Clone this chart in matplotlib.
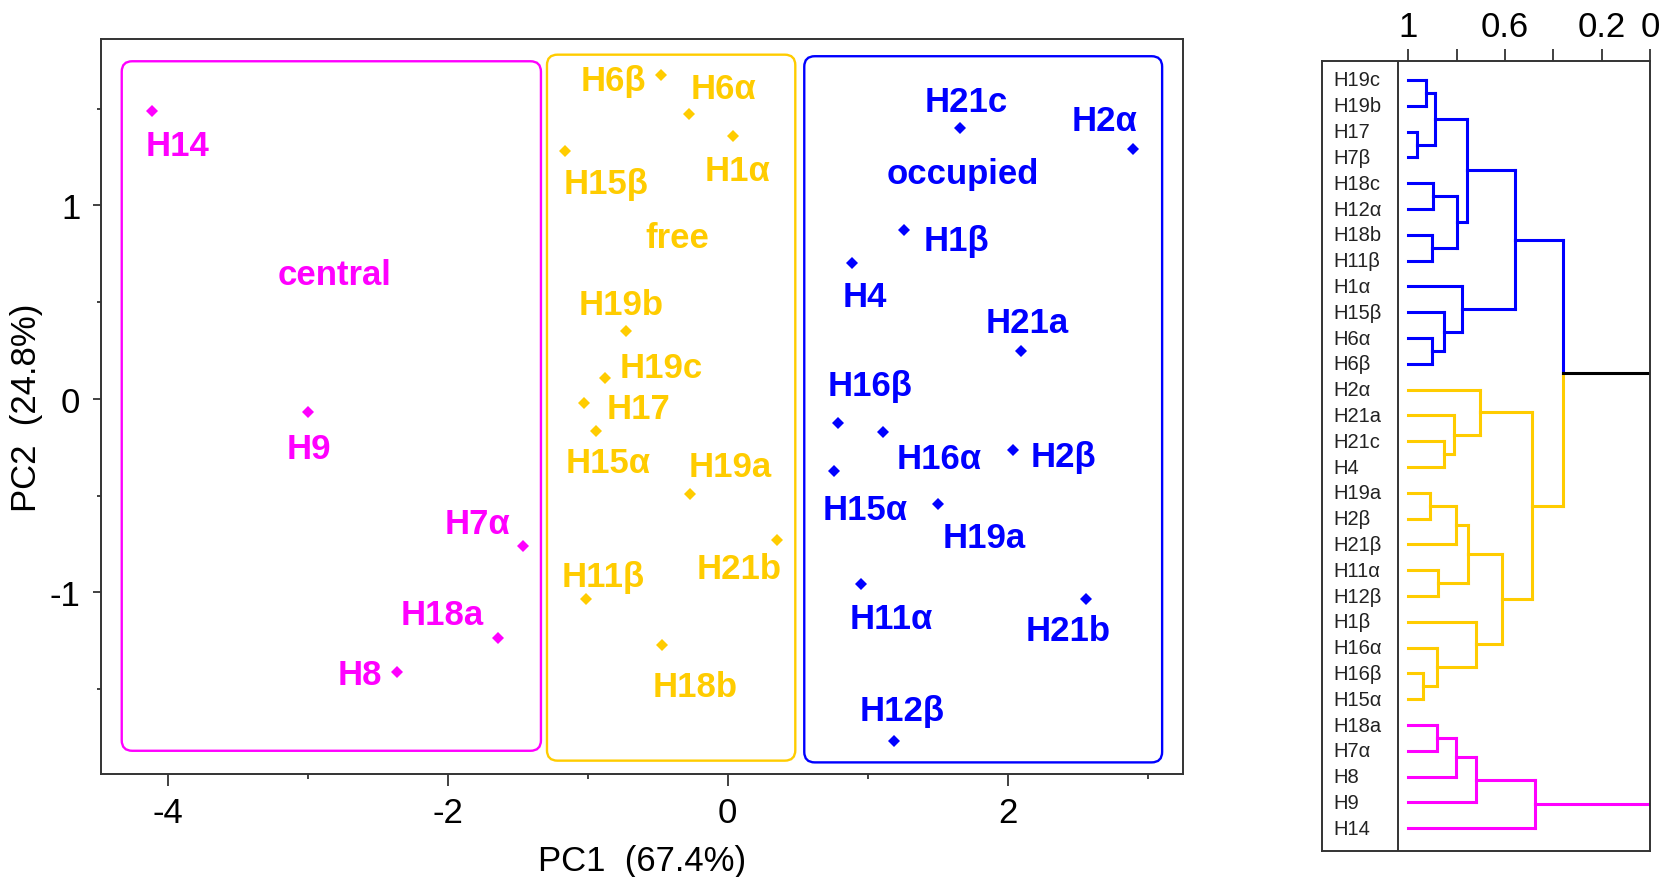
import matplotlib
matplotlib.use('Agg')
import matplotlib.pyplot as plt
from matplotlib.patches import FancyBboxPatch

plt.rcParams['font.family'] = ['Liberation Sans', 'DejaVu Sans']

MAGENTA = '#FF00FF'
YELLOW = '#FFCC00'
BLUE = '#0000FF'
AXIS_COLOR = '#333333'

# PCA scores, one group per cluster
central_names = ['H14', 'H9', 'H7α', 'H18a', 'H8']
central_pc1 = [-4.11, -3.00, -1.46, -1.64, -2.36]
central_pc2 = [1.49, -0.07, -0.76, -1.235, -1.41]

free_names = ['H6β', 'H6α', 'H1α', 'H15β', 'H19b', 'H19c', 'H17',
              'H15α', 'H19a', 'H21b', 'H11β', 'H18b']
free_pc1 = [-0.48, -0.28, 0.04, -1.16, -0.725, -0.88, -1.025,
            -0.94, -0.27, 0.35, -1.01, -0.47]
free_pc2 = [1.675, 1.475, 1.36, 1.28, 0.35, 0.11, -0.02,
            -0.165, -0.49, -0.73, -1.035, -1.27]

occupied_names = ['H21c', 'H2α', 'H1β', 'H4', 'H21a', 'H16β', 'H16α',
                  'H2β', 'H15α', 'H19a', 'H11α', 'H21b', 'H12β']
occupied_pc1 = [1.66, 2.89, 1.255, 0.89, 2.095, 0.785, 1.11,
                2.035, 0.755, 1.50, 0.95, 2.56, 1.185]
occupied_pc2 = [1.40, 1.29, 0.875, 0.70, 0.25, -0.125, -0.17,
                -0.265, -0.37, -0.545, -0.955, -1.035, -1.765]

# label offsets from the marker (points, text baseline)
central_offsets = [(18, -32), (1, -33), (-33, 9.5), (-40, 10), (-27, -9)]
free_offsets = [(-34, -11), (25, 11), (3, -31.5), (29, -30), (-4, 12.5),
                (41, 0.5), (39, -11), (9, -29.5), (29, 13), (-27, -27),
                (12, 9.5), (24, -37)]
occupied_offsets = [(4, 12.5), (-20, 14), (38, -15), (9, -30.5), (4, 13.5),
                    (23.5, 20), (40, -26), (36.5, -11.5), (23, -35),
                    (33, -30.5), (22, -32), (-13, -29), (6, 14.5)]

# (name, colour, names, pc1, pc2, offsets, title position, box extent)
groups = [
    ('central', MAGENTA, central_names, central_pc1, central_pc2, central_offsets,
     (-2.81, 0.645), (-4.327, -1.818, -1.334, 1.745)),
    ('free', YELLOW, free_names, free_pc1, free_pc2, free_offsets,
     (-0.36, 0.835), (-1.291, -1.869, 0.482, 1.779)),
    ('occupied', BLUE, occupied_names, occupied_pc1, occupied_pc2, occupied_offsets,
     (1.68, 1.165), (0.546, -1.878, 3.101, 1.771)),
]

# Hierarchical clustering (similarity scale, 1 = identical)
leaves = ['H19c', 'H19b', 'H17', 'H7β', 'H18c', 'H12α', 'H18b', 'H11β',
          'H1α', 'H15β', 'H6α', 'H6β',
          'H2α', 'H21a', 'H21c', 'H4', 'H19a', 'H2β', 'H21β', 'H11α',
          'H12β', 'H1β', 'H16α', 'H16β', 'H15α',
          'H18a', 'H7α', 'H8', 'H9', 'H14']
leaf_colors = [BLUE] * 12 + [YELLOW] * 13 + [MAGENTA] * 5

# merges: (child a, child b, similarity); new nodes numbered from len(leaves)
merges = [
    (0, 1, 0.928), (2, 3, 0.965), (30, 31, 0.89), (4, 5, 0.897),
    (6, 7, 0.903), (33, 34, 0.80), (32, 35, 0.756), (10, 11, 0.903),
    (9, 37, 0.852), (8, 38, 0.779), (36, 39, 0.559),
    (14, 15, 0.852), (13, 41, 0.811), (12, 42, 0.703), (16, 17, 0.91),
    (44, 18, 0.804), (19, 20, 0.876), (45, 46, 0.754), (23, 24, 0.938),
    (22, 48, 0.883), (21, 49, 0.72), (47, 50, 0.614), (43, 51, 0.487),
    (40, 52, 0.359),
    (25, 26, 0.883), (54, 27, 0.804), (55, 28, 0.72), (56, 29, 0.477),
    (53, 57, 0.0),
]

W, H = 1660, 878
fig = plt.figure(figsize=(W / 100, H / 100), dpi=100)

# ---- PCA scatter ----
ax = fig.add_axes([101 / W, 1 - 775 / H, 1082 / W, 735 / H])
ax.set_xlim(-4.475, 3.25)
ax.set_ylim(-1.938, 1.86)

for title, color, names, xs, ys, offsets, title_xy, box in groups:
    x0, y0, x1, y1 = box
    ax.add_patch(FancyBboxPatch((x0, y0), x1 - x0, y1 - y0,
                                boxstyle='round,pad=0,rounding_size=0.075',
                                mutation_aspect=0.72, fill=False,
                                edgecolor=color, linewidth=1.7))
    ax.plot(xs, ys, linestyle='none', marker='D', markersize=6,
            color=color, markeredgewidth=0)
    for name, x, y, off in zip(names, xs, ys, offsets):
        ax.annotate(name, (x, y), xytext=off, textcoords='offset points',
                    ha='center', va='baseline', fontsize=25,
                    fontweight='bold', color=color)
    ax.text(title_xy[0], title_xy[1], title, ha='center', va='center',
            fontsize=25, fontweight='bold', color=color)

ax.set_xticks([-4, -2, 0, 2])
ax.set_xticks([-3, -1, 1, 3], minor=True)
ax.set_yticks([-1, 0, 1])
ax.set_yticks([-1.5, -0.5, 0.5, 1.5], minor=True)
ax.set_xticklabels(['-4', '-2', '0', '2'])
ax.set_yticklabels(['-1', '0', '1'])
ax.tick_params(axis='x', which='major', length=8.6, width=1.3, pad=7,
               labelsize=25, color=AXIS_COLOR)
ax.tick_params(axis='x', which='minor', length=3.6, width=1.3, color=AXIS_COLOR)
ax.tick_params(axis='y', which='major', length=5.8, width=1.3, pad=9,
               labelsize=25, color=AXIS_COLOR)
ax.tick_params(axis='y', which='minor', length=2.6, width=1.3, color=AXIS_COLOR)
for sp in ax.spines.values():
    sp.set_color(AXIS_COLOR)
    sp.set_linewidth(1.4)
ax.set_xlabel('PC1  (67.4%)', fontsize=25, labelpad=11)
ax.set_ylabel('PC2  (24.8%)', fontsize=25, labelpad=5)

# ---- dendrogram ----
dx = fig.add_axes([1321.7 / W, 1 - 851.7 / H, 328.3 / W, 790 / H])
dx.set_xlim(1.358, 0)
dx.set_ylim(29.87, -0.748)

n = len(leaves)
ypos = {i: float(i) for i in range(n)}
level = {i: 1.0 for i in range(n)}
color = {i: leaf_colors[i] for i in range(n)}
for k, (a, b, h) in enumerate(merges):
    node = n + k
    ypos[node] = (ypos[a] + ypos[b]) / 2
    level[node] = h
    color[node] = color[a] if color[a] == color[b] else 'black'
    for child in (a, b):
        c = color[child]
        dx.plot([level[child], h], [ypos[child], ypos[child]], color=c,
                lw=2.2, solid_capstyle='projecting')
        # the final join falls on the frame edge, leave it to the spine
        if h > 0:
            dx.plot([h, h], [ypos[child], ypos[node]], color=c,
                    lw=2.2, solid_capstyle='projecting')

for i, name in enumerate(leaves):
    dx.text(1.31, i, name, ha='left', va='center', fontsize=14.5,
            color='#222222')

dx.axvline(1.041, color=AXIS_COLOR, lw=1.4)
dx.xaxis.tick_top()
dx.set_xticks([1, 0.8, 0.6, 0.4, 0.2, 0])
dx.set_xticklabels(['1', '', '0.6', '', '0.2', '0'])
dx.tick_params(axis='x', length=8.6, width=1.3, pad=4, labelsize=25,
               color=AXIS_COLOR)
dx.set_yticks([])
for sp in dx.spines.values():
    sp.set_color(AXIS_COLOR)
    sp.set_linewidth(1.4)

fig.savefig('out.png', dpi=100)
